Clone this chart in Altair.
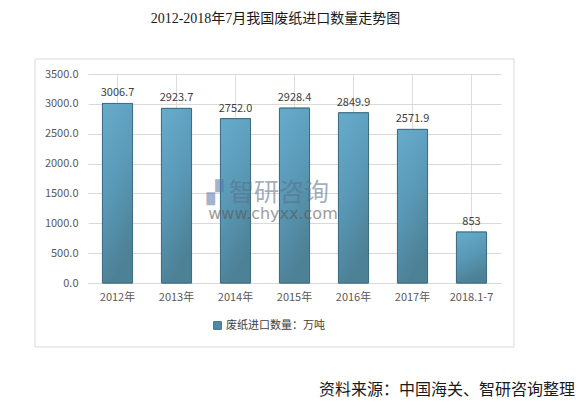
import altair as alt
import pandas as pd

categories = ["2012年", "2013年", "2014年", "2015年", "2016年", "2017年", "2018.1-7"]
values = [3006.7, 2923.7, 2752.0, 2928.4, 2849.9, 2571.9, 853]
value_labels = ["3006.7", "2923.7", "2752.0", "2928.4", "2849.9", "2571.9", "853"]
series_name = "废纸进口数量：万吨"
y_ticks = [0, 500, 1000, 1500, 2000, 2500, 3000, 3500]

df = pd.DataFrame({"cat": categories, "val": values, "lab": value_labels, "series": series_name})

FONT = "Noto Sans CJK SC"

x_enc = alt.X("cat:N", sort=categories, title=None,
              scale=alt.Scale(paddingInner=0.49, paddingOuter=0.245),
              axis=alt.Axis(labelAngle=0, labelFontSize=11, labelColor="#595959", labelFont=FONT,
                            labelPadding=8, ticks=False, domain=True, domainColor="#d9d9d9"))
y_enc = alt.Y("val:Q", title=None, scale=alt.Scale(domain=[0, 3500], nice=False),
              axis=alt.Axis(values=y_ticks, format=".1f", labelFontSize=11, labelColor="#595959",
                            labelFont=FONT, labelPadding=10, ticks=False, domain=False,
                            labelOverlap=False, gridColor="#d9d9d9", gridWidth=1))

base = alt.Chart(df)

bars_legend = base.mark_bar(stroke="#3f6e83", strokeWidth=1).encode(
    x=x_enc, y=y_enc,
    color=alt.Color("series:N", title=None, scale=alt.Scale(range=["#4f8ba8"]),
                    legend=alt.Legend(orient="none", legendX=124, legendY=246, symbolType="square",
                                      symbolSize=60, symbolStrokeColor="#3f6e83", symbolStrokeWidth=1,
                                      labelFontSize=11, labelColor="#404040", labelFont=FONT,
                                      labelOffset=3))
)

bars_grad = base.mark_bar(
    stroke="#3f6e83", strokeWidth=1,
    color=alt.Gradient(gradient="linear", x1=0, x2=0.3, y1=0, y2=1,
                       stops=[alt.GradientStop(color="#67abcb", offset=0),
                              alt.GradientStop(color="#5a9ab8", offset=0.5),
                              alt.GradientStop(color="#4d8196", offset=1)])
).encode(x=x_enc, y=y_enc)

labels = base.mark_text(dy=-10, fontSize=11, color="#404040", font=FONT).encode(
    x=x_enc, y=y_enc, text="lab:N")

frame = alt.Chart(df.head(1)).mark_rect(fill=None, stroke="#d9d9d9", strokeWidth=1).encode(
    x=alt.value(-53), x2=alt.value(426), y=alt.value(-15), y2=alt.value(273))

wm_logo = alt.Chart(pd.DataFrame({"t": ["▞"]})).mark_text(
    fontSize=22, color="#5877a8", opacity=0.55, font="DejaVu Sans").encode(
    text="t:N", x=alt.value(127), y=alt.value(119))
wm1 = alt.Chart(pd.DataFrame({"t": ["智研咨询"]})).mark_text(
    fontSize=25, color="#5c6e86", opacity=0.55, font=FONT).encode(
    text="t:N", x=alt.value(191), y=alt.value(119))
wm2 = alt.Chart(pd.DataFrame({"t": ["www.chyxx.com"]})).mark_text(
    fontSize=16, color="#5a5a5a", opacity=0.6, font="DejaVu Sans").encode(
    text="t:N", x=alt.value(185), y=alt.value(140))

source = alt.Chart(pd.DataFrame({"t": ["资料来源：中国海关、智研咨询整理"]})).mark_text(
    fontSize=16, color="#1a1a1a", align="right", font=FONT).encode(
    text="t:N", x=alt.value(487), y=alt.value(316))

chart = alt.layer(frame, bars_legend, bars_grad, labels, wm_logo, wm1, wm2, source).properties(
    width=413, height=209,
    title=alt.TitleParams("2012-2018年7月我国废纸进口数量走势图", font="Liberation Serif, Noto Sans CJK SC",
                          fontSize=14, fontWeight="normal", color="#1a1a1a", anchor="middle",
                          dx=-19, offset=33),
    autosize=alt.AutoSizeParams(type="none"),
    padding={"left": 80, "top": 66, "right": 77, "bottom": 123},
).configure_view(stroke=None).configure_axis(grid=True)

chart.save("out.html", embed_options={"renderer": "svg", "actions": False})
